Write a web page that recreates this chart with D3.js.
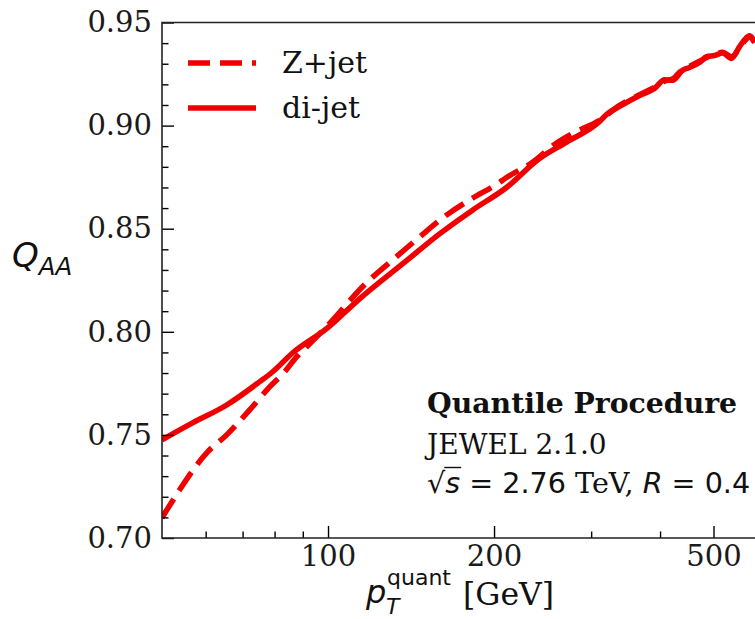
<!DOCTYPE html>
<html><head><meta charset="utf-8">
<script src="https://cdn.jsdelivr.net/npm/d3@7"></script>
<style>
html,body{margin:0;padding:0;background:#fff;}
svg{display:block;}
</style></head>
<body>
<svg id="chart" width="755" height="619"></svg>
<script>
// ---- data ----
const zjetPt = [50, 53.8, 60.2, 65.5, 72.1, 78.3, 83.4, 87.7, 91.4, 99.4, 117.4, 130.9, 146.6, 164.0, 182.8, 202.1, 210.7, 234.9, 259.7, 277.6, 310.7, 337.8, 367.2, 390.8, 407.5, 421.5, 439.3, 452.4, 471.6, 485.8, 502.1, 519.3, 539.1, 557.5, 569.1, 581.3, 593.5];
const zjetQ  = [0.7098, 0.7233, 0.7412, 0.7500, 0.7621, 0.7732, 0.7805, 0.7878, 0.7926, 0.8025, 0.8237, 0.8348, 0.8460, 0.8566, 0.8648, 0.8715, 0.8748, 0.8822, 0.8916, 0.8962, 0.9026, 0.9098, 0.9150, 0.9186, 0.9215, 0.9226, 0.9272, 0.9288, 0.9312, 0.9330, 0.9346, 0.9356, 0.9334, 0.9378, 0.9410, 0.9430, 0.9402];

const dijetPt = [50, 56.8, 65.5, 75.1, 79.3, 86.2, 99.4, 114.1, 138.8, 159.3, 182.8, 210.7, 241.8, 270.8, 310.7, 319.9, 337.8, 367.2, 390.8, 407.5, 421.5, 439.3, 452.4, 471.6, 485.8, 502.1, 519.3, 539.1, 557.5, 569.1, 581.3, 593.5];
const dijetQ  = [0.7476, 0.7558, 0.7645, 0.7757, 0.7805, 0.7897, 0.8015, 0.8160, 0.8345, 0.8475, 0.8590, 0.8700, 0.8840, 0.8920, 0.9020, 0.9054, 0.9093, 0.9146, 0.9180, 0.9222, 0.9220, 0.9268, 0.9282, 0.9306, 0.9334, 0.9340, 0.9352, 0.9326, 0.9383, 0.9416, 0.9436, 0.9408];

const xMajorTicks = [100, 200, 500];
const xMinorTicks = [60, 70, 80, 90, 300, 400, 600];
const yMajorTicks = [0.70, 0.75, 0.80, 0.85, 0.90, 0.95];
const yMinorTicks = d3.range(70, 96, 1).map(d => d / 100);
const seriesLabels = ["Z+jet", "di-jet"];

// ---- layout ----
const L = 162, T = 22.5, B = 538;
const svg = d3.select("#chart");
const x = d3.scaleLog().domain([50, 600]).range([L, L + 551.5 * Math.log10(12)]);
const y = d3.scaleLinear().domain([0.70, 0.95]).range([B, T]);
const red = "#f00000";
const serif = "DejaVu Serif";
const sans = "DejaVu Sans";

// clip
svg.append("clipPath").attr("id", "clip").append("rect")
  .attr("x", L).attr("y", T).attr("width", x.range()[1] - L).attr("height", B - T);

// curves
const line = d3.line().x(d => x(d[0])).y(d => y(d[1])).curve(d3.curveMonotoneX);
const zData = zjetPt.map((p, i) => [p, zjetQ[i]]);
const dData = dijetPt.map((p, i) => [p, dijetQ[i]]);
const g = svg.append("g").attr("clip-path", "url(#clip)");
g.append("path").datum(dData).attr("d", line).attr("fill", "none")
  .attr("stroke", red).attr("stroke-width", 5.5).attr("stroke-linejoin", "round");
g.append("path").datum(zData).attr("d", line).attr("fill", "none")
  .attr("stroke", red).attr("stroke-width", 5.5).attr("stroke-dasharray", "22,10");

// axes
function styleAxis(sel) {
  sel.select(".domain").remove();
  sel.selectAll(".tick line").attr("stroke", "#000").attr("stroke-width", 1.4);
  sel.selectAll(".tick text").attr("font-family", serif).attr("font-size", 29).attr("fill", "#1a1a1a");
}
const xAx = svg.append("g").attr("transform", `translate(0,${B})`)
  .call(d3.axisBottom(x).tickValues(xMajorTicks).tickFormat(d3.format("d")).tickSize(-12).tickSizeOuter(0).tickPadding(8));
styleAxis(xAx);
xAx.selectAll(".tick text").attr("y", 5).attr("dy", "0.8em");
const xMin = svg.append("g").attr("transform", `translate(0,${B})`)
  .call(d3.axisBottom(x).tickValues(xMinorTicks).tickFormat("").tickSize(-6.5).tickSizeOuter(0));
styleAxis(xMin);

const yAx = svg.append("g").attr("transform", `translate(${L},0)`)
  .call(d3.axisLeft(y).tickValues(yMajorTicks).tickFormat(d3.format(".2f")).tickSize(-12).tickSizeOuter(0).tickPadding(10));
styleAxis(yAx);
yAx.selectAll(".tick text").attr("x", -10);
const yMin = svg.append("g").attr("transform", `translate(${L},0)`)
  .call(d3.axisLeft(y).tickValues(yMinorTicks.filter(v => !yMajorTicks.some(m => Math.abs(m - v) < 1e-9))).tickFormat("").tickSize(-6.5).tickSizeOuter(0));
styleAxis(yMin);

// spines
const xr = x.range()[1];
svg.append("path").attr("d", `M${L},${T}H${xr}V${B}H${L}Z`)
  .attr("fill", "none").attr("stroke", "#222").attr("stroke-width", 1.6);

// y label Q_AA
const ql = svg.append("text").attr("x", 12).attr("y", 267).attr("font-family", sans).attr("fill", "#111");
ql.append("tspan").attr("font-size", 34).attr("font-style", "italic").text("Q");
ql.append("tspan").attr("font-size", 24.5).attr("font-style", "italic").attr("dy", 8).text("AA");

// x label
svg.append("text").attr("x", 366).attr("y", 603).attr("font-family", sans).attr("font-size", 32)
  .attr("font-style", "italic").attr("fill", "#111").text("p");
const pEnd = 387;
svg.append("text").attr("x", pEnd - 1).attr("y", 614).attr("font-family", sans).attr("font-size", 22)
  .attr("font-style", "italic").attr("fill", "#111").text("T");
svg.append("text").attr("x", pEnd).attr("y", 585).attr("font-family", sans).attr("font-size", 22)
  .attr("fill", "#111").text("quant");
svg.append("text").attr("x", 463).attr("y", 605).attr("font-family", serif).attr("font-size", 31.5)
  .attr("fill", "#111").text("[GeV]");

// legend
const legY = [63, 108];
const legStyles = ["22,10", null];
legY.forEach((ly, i) => {
  const ln = svg.append("line").attr("x1", 188).attr("x2", 256).attr("y1", ly).attr("y2", ly)
    .attr("stroke", red).attr("stroke-width", 5.5);
  if (legStyles[i]) ln.attr("stroke-dasharray", legStyles[i]);
  svg.append("text").attr("x", 282).attr("y", ly + 10).attr("font-family", serif).attr("font-size", 30)
    .attr("fill", "#111").text(seriesLabels[i]);
});

// annotation
svg.append("text").attr("x", 427).attr("y", 413).attr("font-family", serif).attr("font-weight", "bold")
  .attr("font-size", 28.3).attr("fill", "#111").text("Quantile Procedure");
svg.append("text").attr("x", 427).attr("y", 454).attr("font-family", serif)
  .attr("font-size", 28).attr("fill", "#111").text("JEWEL 2.1.0");
const ann = svg.append("text").attr("x", 427).attr("y", 493).attr("fill", "#111").attr("font-size", 28.6);
ann.append("tspan").attr("font-family", sans).text("√");
ann.append("tspan").attr("font-family", sans).attr("font-style", "italic").text("s");
ann.append("tspan").attr("font-family", sans).text(" = 2.76 ");
ann.append("tspan").attr("font-family", serif).text("TeV, ");
ann.append("tspan").attr("font-family", sans).attr("font-style", "italic").text("R");
ann.append("tspan").attr("font-family", sans).text(" = 0.4");
// overbar of the square root
const n = ann.node();
const p0 = n.getStartPositionOfChar(1), p1 = n.getEndPositionOfChar(1);
const rootTop = n.getExtentOfChar(0).y;
svg.append("line").attr("x1", p0.x - 1).attr("x2", p1.x + 1).attr("y1", rootTop + 1.5).attr("y2", rootTop + 1.5)
  .attr("stroke", "#111").attr("stroke-width", 1.4);
</script>
</body></html>
